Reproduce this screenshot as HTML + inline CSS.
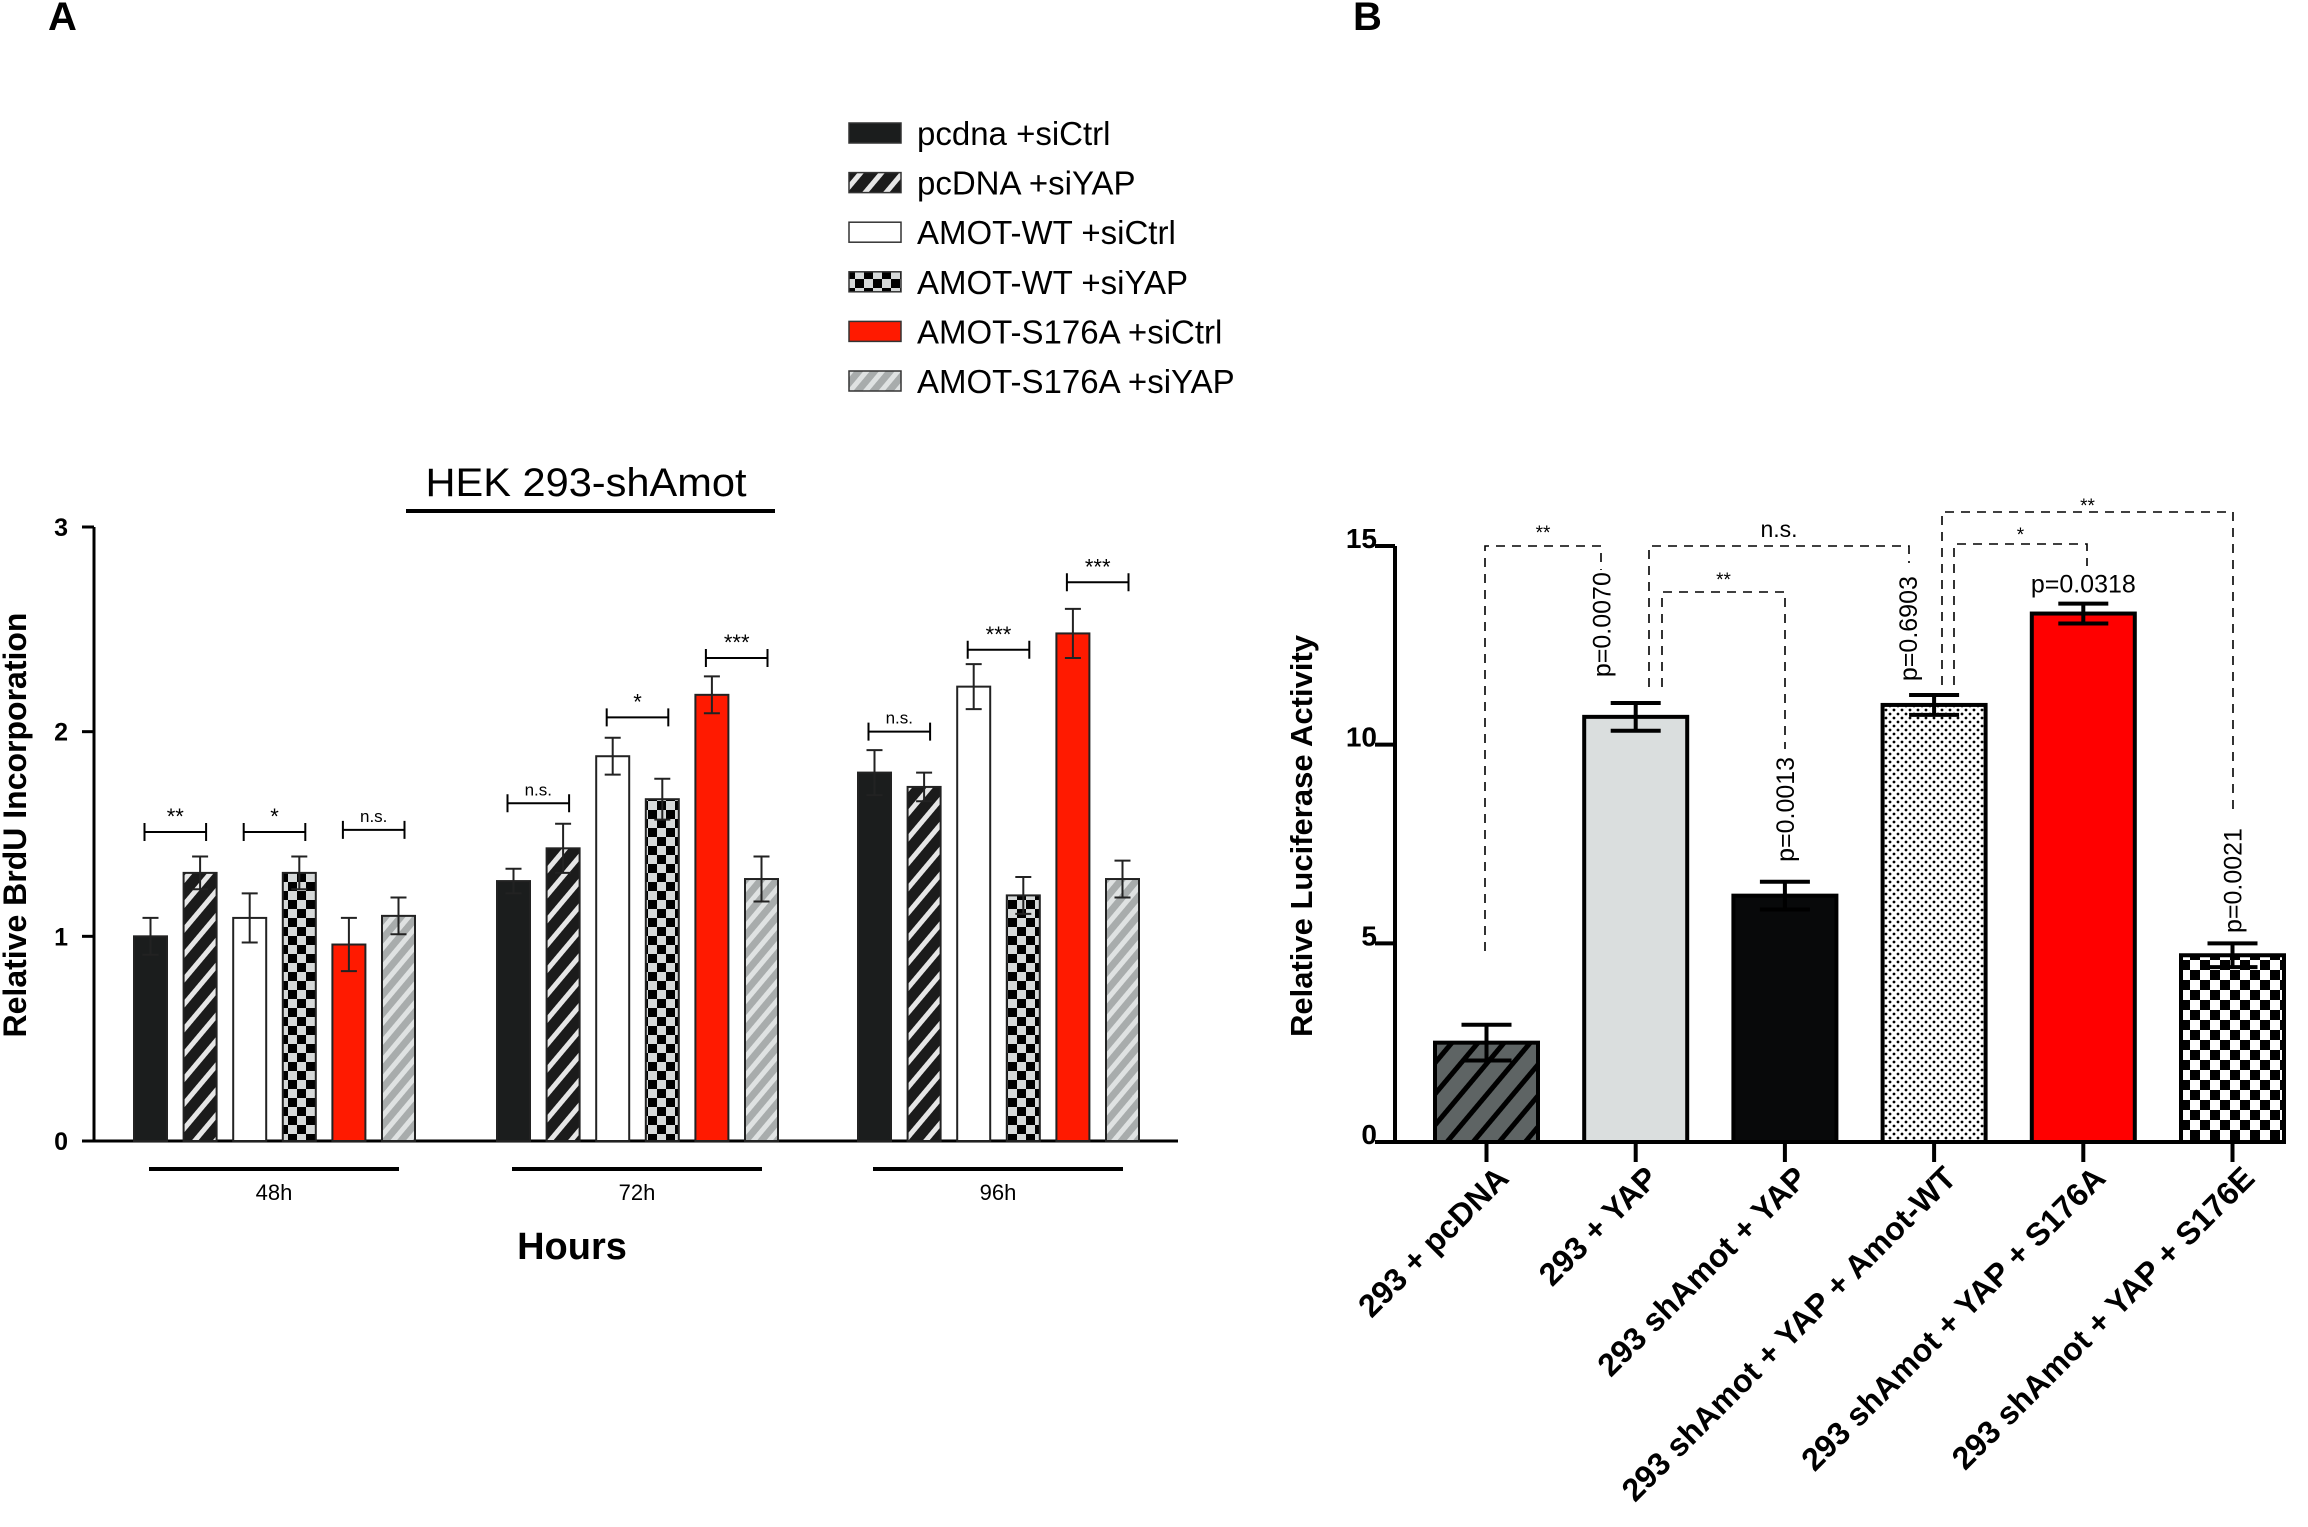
<!DOCTYPE html>
<html><head><meta charset="utf-8">
<style>
html,body{margin:0;padding:0;background:#fff;}
svg{display:block;font-family:"Liberation Sans",Arial,sans-serif;}
</style></head>
<body>
<svg id="fig" width="2308" height="1527" viewBox="0 0 2308 1527" xmlns="http://www.w3.org/2000/svg">
<defs>
  <pattern id="pStripeBlack" patternUnits="userSpaceOnUse" width="16" height="16" patternTransform="rotate(40)">
    <rect width="16" height="16" fill="#1b1b1b"/><rect width="5" height="16" fill="#e6e6e6"/>
  </pattern>
  <pattern id="pStripeGrey" patternUnits="userSpaceOnUse" width="12" height="12" patternTransform="rotate(40)">
    <rect width="12" height="12" fill="#a8acac"/><rect width="5" height="12" fill="#dfe2e2"/>
  </pattern>
  <pattern id="pChecker" patternUnits="userSpaceOnUse" width="18" height="18">
    <rect width="18" height="18" fill="#d6d9d9"/><rect width="9" height="9" fill="#000"/><rect x="9" y="9" width="9" height="9" fill="#000"/>
  </pattern>
  <pattern id="pCheckerB" patternUnits="userSpaceOnUse" width="20" height="20">
    <rect width="20" height="20" fill="#fff"/><rect width="10" height="10" fill="#000"/><rect x="10" y="10" width="10" height="10" fill="#000"/>
  </pattern>
  <pattern id="pStripeDark" patternUnits="userSpaceOnUse" width="20" height="20" patternTransform="rotate(40)">
    <rect width="20" height="20" fill="#5e6464"/><rect width="5" height="20" fill="#000"/>
  </pattern>
  <pattern id="pDots" patternUnits="userSpaceOnUse" width="8" height="8">
    <rect width="8" height="8" fill="#fff"/><circle cx="2" cy="2" r="1.4" fill="#000"/><circle cx="6" cy="6" r="1.4" fill="#000"/>
  </pattern>
</defs>
<text x="48" y="30" font-size="40" font-weight="bold">A</text>
<text x="1353" y="30" font-size="40" font-weight="bold">B</text>
<g id="legend"></g>
<g id="chartA"></g>
<g id="chartB"></g>
</svg>
<script>
// ---------- Panel A data ----------
const groupsA = ["48h", "72h", "96h"];
const seriesNamesA = ["pcdna +siCtrl", "pcDNA +siYAP", "AMOT-WT +siCtrl", "AMOT-WT +siYAP", "AMOT-S176A +siCtrl", "AMOT-S176A +siYAP"];
const valuesA48 = [1.00, 1.31, 1.09, 1.31, 0.96, 1.10];
const valuesA72 = [1.27, 1.43, 1.88, 1.67, 2.18, 1.28];
const valuesA96 = [1.80, 1.73, 2.22, 1.20, 2.48, 1.28];
const errA48 = [0.09, 0.08, 0.12, 0.08, 0.13, 0.09];
const errA72 = [0.06, 0.12, 0.09, 0.10, 0.09, 0.11];
const errA96 = [0.11, 0.07, 0.11, 0.09, 0.12, 0.09];
const sigLabelsA = [["**", "*", "n.s."], ["n.s.", "*", "***"], ["n.s.", "***", "***"]];
const sigLevelsA = [[1.51, 1.51, 1.52], [1.65, 2.07, 2.36], [2.00, 2.40, 2.73]];
const ticksA = [0, 1, 2, 3];

// ---------- Panel B data ----------
const categoriesB = ["293 + pcDNA", "293 + YAP", "293 shAmot + YAP", "293 shAmot + YAP + Amot-WT", "293 shAmot + YAP + S176A", "293 shAmot + YAP + S176E"];
const valuesB = [2.5, 10.7, 6.2, 11.0, 13.3, 4.7];
const errB = [0.45, 0.35, 0.35, 0.25, 0.25, 0.3];
const ticksB = [0, 5, 10, 15];
const pLabelsB = ["", "p=0.0070", "p=0.0013", "p=0.6903", "p=0.0318", "p=0.0021"];
const pLabelBottomB = [0, 11.7, 7.05, 11.6, 0, 5.26];

const NS = "http://www.w3.org/2000/svg";
function mk(tag, attrs, parent) {
  const e = document.createElementNS(NS, tag);
  for (const k in attrs) e.setAttribute(k, attrs[k]);
  parent.appendChild(e);
  return e;
}
const fillsA = ["#1b1d1d", "url(#pStripeBlack)", "#ffffff", "url(#pChecker)", "#ff1a00", "url(#pStripeGrey)"];
const fillsB = ["url(#pStripeDark)", "#dadede", "#08090a", "url(#pDots)", "#ff0000", "url(#pCheckerB)"];
const pOffsetB = [0, -34, 0, -26, 0, 0];

// ---------- Legend ----------
const leg = document.getElementById("legend");
seriesNamesA.forEach((n, i) => {
  const cy = 133 + i * 49.6;
  const r = mk("rect", {x: 849, y: cy - 10, width: 52, height: 20, fill: fillsA[i], stroke: "#333", "stroke-width": 1.5}, leg);
  
  
  const t = mk("text", {x: 917, y: cy + 12, "font-size": 33}, leg);
  t.textContent = n;
  
  
});

// ---------- Chart A ----------
const gA = document.getElementById("chartA");
const A = {x0: 94, y0: 1141, yTop: 527, xEnd: 1178, max: 3};
const yA = v => A.y0 - v / A.max * (A.y0 - A.yTop);
const groupStartA = [134, 497, 858];
const stepA = 49.6, bwA = 33;
const xA = (g, i) => groupStartA[g] + i * stepA;
const allValsA = [valuesA48, valuesA72, valuesA96];
const allErrA = [errA48, errA72, errA96];

let t = mk("text", {x: 586, y: 496, "font-size": 40, "text-anchor": "middle", textLength: 321, lengthAdjust: "spacingAndGlyphs"}, gA);
t.textContent = "HEK 293-shAmot";


mk("line", {x1: 406, x2: 775, y1: 511, y2: 511, stroke: "#000", "stroke-width": 4}, gA);

t = mk("text", {x: 0, y: 0, "font-size": 32, "font-weight": "bold", "text-anchor": "middle", transform: "translate(26,825) rotate(-90)"}, gA);
t.textContent = "Relative BrdU Incorporation";



mk("line", {x1: A.x0, x2: A.x0, y1: A.yTop, y2: A.y0, stroke: "#000", "stroke-width": 3}, gA);
mk("line", {x1: A.x0, x2: A.xEnd, y1: A.y0, y2: A.y0, stroke: "#000", "stroke-width": 3}, gA);
ticksA.forEach(v => {
  mk("line", {x1: A.x0 - 12, x2: A.x0, y1: yA(v), y2: yA(v), stroke: "#000", "stroke-width": 3}, gA);
  const tt = mk("text", {x: A.x0 - 26, y: yA(v) + 9, "font-size": 25, "font-weight": "bold", "text-anchor": "end"}, gA);
  tt.textContent = v;
  
  
});

allValsA.forEach((vals, g) => {
  vals.forEach((v, i) => {
    const x = xA(g, i);
    const r = mk("rect", {x: x, y: yA(v), width: bwA, height: A.y0 - yA(v), fill: fillsA[i], stroke: "#222", "stroke-width": 2}, gA);
    
    
    const e = allErrA[g][i], cx = x + bwA / 2;
    mk("path", {d: `M${cx},${yA(v + e)}V${yA(v - e)}M${cx - 8},${yA(v + e)}H${cx + 8}M${cx - 8},${yA(v - e)}H${cx + 8}`, stroke: "#222", "stroke-width": 2, fill: "none"}, gA);
  });
  sigLabelsA[g].forEach((lab, k) => {
    const xl = xA(g, 2 * k) + bwA / 2 - 6, xr = xA(g, 2 * k + 1) + bwA / 2 + 6;
    const yy = yA(sigLevelsA[g][k]);
    mk("path", {d: `M${xl},${yy - 9}V${yy + 9}M${xl},${yy}H${xr}M${xr},${yy - 9}V${yy + 9}`, stroke: "#000", "stroke-width": 2, fill: "none"}, gA);
    const st = mk("text", {x: (xl + xr) / 2, y: yy - 8, "font-size": lab === "n.s." ? 17 : 22, "text-anchor": "middle"}, gA);
    st.textContent = lab;
    
    
  });
  const gl = xA(g, 0) + 15, gr = xA(g, 5) + bwA - 16;
  mk("line", {x1: gl, x2: gr, y1: 1169, y2: 1169, stroke: "#000", "stroke-width": 4}, gA);
  const lt = mk("text", {x: (gl + gr) / 2, y: 1200, "font-size": 22, "text-anchor": "middle"}, gA);
  lt.textContent = groupsA[g];
  
  
});
t = mk("text", {x: 572, y: 1259, "font-size": 38, "font-weight": "bold", "text-anchor": "middle"}, gA);
t.textContent = "Hours";



// ---------- Chart B ----------
const gB = document.getElementById("chartB");
const B = {x0: 1395, y0: 1142, yTop: 546, xEnd: 2285, max: 15};
const yB = v => B.y0 - v / B.max * (B.y0 - B.yTop);
const bwB = 103, stepB = 149.2;
const xB = i => 1435 + i * stepB;
const cxB = i => xB(i) + bwB / 2;

t = mk("text", {x: 0, y: 0, "font-size": 31, "font-weight": "bold", "text-anchor": "middle", transform: "translate(1312,836) rotate(-90)"}, gB);
t.textContent = "Relative Luciferase Activity";



mk("line", {x1: B.x0, x2: B.x0, y1: B.yTop, y2: B.y0, stroke: "#000", "stroke-width": 4}, gB);
mk("line", {x1: B.x0 - 20, x2: B.xEnd, y1: B.y0, y2: B.y0, stroke: "#000", "stroke-width": 4}, gB);
ticksB.forEach(v => {
  mk("line", {x1: B.x0 - 20, x2: B.x0, y1: yB(v), y2: yB(v), stroke: "#000", "stroke-width": 4}, gB);
  const tt = mk("text", {x: B.x0 - 18, y: yB(v) + 2, "font-size": 28, "font-weight": "bold", "text-anchor": "end"}, gB);
  tt.textContent = v;
  
  
});

valuesB.forEach((v, i) => {
  const r = mk("rect", {x: xB(i), y: yB(v), width: bwB, height: B.y0 - yB(v), fill: fillsB[i], stroke: "#000", "stroke-width": 4}, gB);
  
  
  const e = errB[i], cx = cxB(i);
  mk("path", {d: `M${cx},${yB(v + e)}V${yB(v - e)}M${cx - 25},${yB(v + e)}H${cx + 25}M${cx - 25},${yB(v - e)}H${cx + 25}`, stroke: "#000", "stroke-width": 4, fill: "none"}, gB);
  mk("line", {x1: cx, x2: cx, y1: B.y0, y2: B.y0 + 20, stroke: "#000", "stroke-width": 4}, gB);
  const lt = mk("text", {x: 0, y: 0, "font-size": 32, "font-weight": "bold", "text-anchor": "end", transform: `translate(${cx + 24},${B.y0 + 38}) rotate(-45)`}, gB);
  lt.textContent = categoriesB[i];
  
  
  if (pLabelsB[i]) {
    let pt;
    if (i === 4) {
      pt = mk("text", {x: cx, y: yB(v + e) - 11, "font-size": 25, "text-anchor": "middle"}, gB);
    } else {
      pt = mk("text", {x: 0, y: 0, "font-size": 25, "text-anchor": "start", transform: `translate(${cx + pOffsetB[i] + 9},${yB(pLabelBottomB[i])}) rotate(-90)`}, gB);
    }
    pt.textContent = pLabelsB[i];
    
    
  }
});

// dashed brackets: [leftX, leftBottomY, topY, rightX, rightBottomY, label, labelY]
const brackets = [
  [1485, 951, 546, 1601, 570, "**", 531],
  [1649, 687, 546, 1909, 563, "n.s.", 529],
  [1662, 687, 592, 1785, 749, "**", 578],
  [1954, 685, 544, 2087, 566, "*", 533],
  [1942, 685, 512, 2233, 813, "**", 504]
];
brackets.forEach(b => {
  mk("path", {d: `M${b[0]},${b[1]}V${b[2]}H${b[3]}V${b[4]}`, stroke: "#000", "stroke-width": 1.6, fill: "none", "stroke-dasharray": "9,7"}, gB);
  const st = mk("text", {x: (b[0] + b[3]) / 2, y: b[6] + 8, "font-size": b[5] === "n.s." ? 23 : 19, "text-anchor": "middle"}, gB);
  st.textContent = b[5];
  
  
});
</script>
</body></html>
